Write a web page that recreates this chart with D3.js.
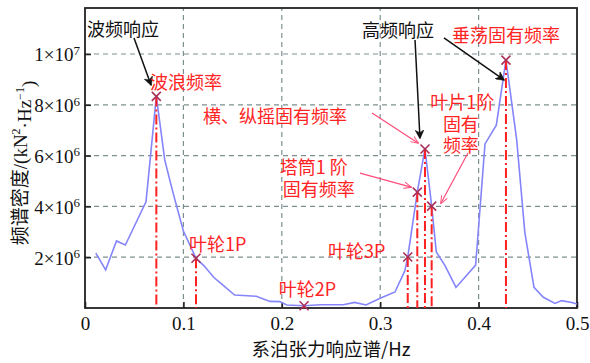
<!DOCTYPE html>
<html lang="zh-CN">
<head>
<meta charset="UTF-8">
<title>系泊张力响应谱</title>
<script src="https://d3js.org/d3.v7.min.js"></script>
<style>
    body { margin: 0; background: #fff; }
    svg { display: block; }
    .num { font-family: "Liberation Serif", "DejaVu Serif", serif; }
    .cjk { font-family: "Noto Sans CJK SC", sans-serif; }
</style>
</head>
<body>
<div id="chart"></div>
<script>
// 频率 (Hz) 与谱密度 (kN²·Hz⁻¹)
const freq = [0.011, 0.021, 0.032, 0.041, 0.062, 0.0725, 0.081, 0.089, 0.100, 0.1128,
    0.121, 0.131, 0.139, 0.152, 0.174, 0.188, 0.198, 0.205, 0.2226, 0.239,
    0.2625, 0.274, 0.2856, 0.300, 0.315, 0.325, 0.328, 0.3377, 0.3455, 0.3523,
    0.357, 0.366, 0.377, 0.397, 0.4065, 0.418, 0.4278, 0.4387, 0.447, 0.4563,
    0.4658, 0.4776, 0.4844, 0.4946, 0.500];
const psd = [2.16e6, 1.50e6, 2.64e6, 2.48e6, 4.18e6, 8.33e6, 5.84e6, 4.60e6, 3.03e6, 1.96e6,
    1.66e6, 1.20e6, 0.94e6, 0.51e6, 0.46e6, 0.26e6, 0.25e6, 0.12e6, 0.09e6, 0.13e6,
    0.13e6, 0.22e6, 0.12e6, 0.38e6, 0.63e6, 1.46e6, 2.01e6, 4.56e6, 6.26e6, 4.01e6,
    2.21e6, 1.66e6, 0.81e6, 1.69e6, 6.46e6, 7.20e6, 9.76e6, 6.63e6, 2.97e6, 0.81e6,
    0.42e6, 0.18e6, 0.29e6, 0.22e6, 0.16e6];

// 标记的特征频率
const markFreq = [0.0725, 0.1128, 0.2226, 0.328, 0.3377, 0.3455, 0.3523, 0.4278];
const markPsd = [8.33e6, 1.96e6, 0.09e6, 2.01e6, 4.56e6, 6.26e6, 4.01e6, 9.76e6];

const xTicks = [0, 0.1, 0.2, 0.3, 0.4, 0.5];
const xTickLabels = ['0', '0.1', '0.2', '0.3', '0.4', '0.5'];
const yTicks = [2e6, 4e6, 6e6, 8e6, 1e7];
const yTickMant = ['2', '4', '6', '8', '1'];
const yTickExp = ['6', '6', '6', '6', '7'];

const xTitle = '系泊张力响应谱/Hz';

// 标注文字 (位置以数据单位给出)
const labels = [
    { t: '波频响应', f: 0.002, v: 10.71e6, c: 'black' },
    { t: '高频响应', f: 0.2815, v: 10.67e6, c: 'black' },
    { t: '垂荡固有频率', f: 0.373, v: 10.47e6, c: 'red' },
    { t: '波浪频率', f: 0.066, v: 8.62e6, c: 'red' },
    { t: '横、纵摇固有频率', f: 0.12, v: 7.28e6, c: 'red' },
    { t: '塔筒1 阶', f: 0.198, v: 5.28e6, c: 'red' },
    { t: '固有频率', f: 0.201, v: 4.41e6, c: 'red' },
    { t: '叶片1阶', f: 0.3835, v: 7.82e6, c: 'red', mid: true },
    { t: '固有', f: 0.382, v: 6.98e6, c: 'red', mid: true },
    { t: '频率', f: 0.382, v: 6.14e6, c: 'red', mid: true },
    { t: '叶轮1P', f: 0.1057, v: 2.24e6, c: 'red' },
    { t: '叶轮3P', f: 0.247, v: 1.97e6, c: 'red' },
    { t: '叶轮2P', f: 0.197, v: 0.47e6, c: 'red' }
];
const arrows = [
    { f0: 0.0498, v0: 10.63e6, f1: 0.0671, v1: 8.78e6, c: 'black' },
    { f0: 0.3354, v0: 10.55e6, f1: 0.3404, v1: 6.69e6, c: 'black' },
    { f0: 0.3648, v0: 10.63e6, f1: 0.4258, v1: 8.98e6, c: 'black' },
    { f0: 0.2917, v0: 7.68e6, f1: 0.3384, v1: 6.50e6, c: 'pink' },
    { f0: 0.2795, v0: 5.31e6, f1: 0.3313, v1: 4.76e6, c: 'pink' },
    { f0: 0.3892, v0: 6.10e6, f1: 0.3618, v1: 4.13e6, c: 'pink' }
];

const W = 590, H = 363;
const margin = { top: 8, right: 13, bottom: 55, left: 85 };
const colors = { red: '#ff2424', pink: '#ff4d7a', black: '#111' };

const svg = d3.select('#chart').append('svg')
    .attr('width', W).attr('height', H);

const x = d3.scaleLinear().domain([0, 0.5]).range([margin.left, W - margin.right]);
const y = d3.scaleLinear().domain([0, 11.81e6]).range([H - margin.bottom, margin.top]);

// 网格
const grid = svg.append('g').attr('stroke', '#7d8f8f').attr('stroke-width', 1.2)
    .attr('stroke-dasharray', '5,4');
grid.selectAll('.gx').data(xTicks.slice(1, -1)).enter().append('line')
    .attr('x1', d => x(d)).attr('x2', d => x(d))
    .attr('y1', y.range()[0]).attr('y2', y.range()[1]);
grid.selectAll('.gy').data(yTicks).enter().append('line')
    .attr('x1', x.range()[0]).attr('x2', x.range()[1])
    .attr('y1', d => y(d)).attr('y2', d => y(d));

// 坐标轴
const xAxis = svg.append('g')
    .attr('transform', `translate(0,${y.range()[0]})`)
    .call(d3.axisBottom(x).tickValues(xTicks).tickSizeInner(-6).tickSizeOuter(0)
        .tickPadding(9).tickFormat((d, i) => xTickLabels[i]));
xAxis.select('.domain').remove();
xAxis.selectAll('line').attr('stroke', '#222').attr('stroke-width', 1.6);
xAxis.selectAll('text').attr('class', 'num').attr('font-size', 19).attr('fill', '#111')
    .attr('font-family', null);

const yAxis = svg.append('g')
    .attr('transform', `translate(${x.range()[0]},0)`)
    .call(d3.axisLeft(y).tickValues(yTicks).tickSizeInner(-6).tickSizeOuter(0)
        .tickPadding(6).tickFormat(''));
yAxis.select('.domain').remove();
yAxis.selectAll('line').attr('stroke', '#222').attr('stroke-width', 1.6);
yAxis.selectAll('.tick text').each(function (d, i) {
    const t = d3.select(this).attr('class', 'num').attr('font-size', 19).attr('fill', '#111')
        .attr('font-family', null).attr('dy', '0.36em').attr('x', -5);
    t.append('tspan').text(yTickMant[i] + '×10');
    t.append('tspan').text(yTickExp[i]).attr('font-size', 13).attr('dy', '-0.5em');
});

// 边框
svg.append('rect')
    .attr('x', x.range()[0]).attr('y', y.range()[1])
    .attr('width', x.range()[1] - x.range()[0]).attr('height', y.range()[0] - y.range()[1])
    .attr('fill', 'none').attr('stroke', '#222').attr('stroke-width', 1.8);

// 谱线
const pts = freq.map((f, i) => [f, psd[i]]);
svg.append('path').datum(pts)
    .attr('fill', 'none').attr('stroke', '#8585fb').attr('stroke-width', 1.6)
    .attr('d', d3.line().x(d => x(d[0])).y(d => y(d[1])));

// 特征频率竖线
svg.append('g').selectAll('line').data(markFreq).enter().append('line')
    .attr('x1', d => x(d)).attr('x2', d => x(d))
    .attr('y1', (d, i) => y(markPsd[i])).attr('y2', y(0))
    .attr('stroke', '#ff2020').attr('stroke-width', 2)
    .attr('stroke-dasharray', '10,3,2,3');

// × 标记
const mk = svg.append('g').attr('stroke', '#a8305a').attr('stroke-width', 1.6);
markFreq.forEach((f, i) => {
    const cx = x(f), cy = y(markPsd[i]), r = 4.5;
    mk.append('line').attr('x1', cx - r).attr('y1', cy - r).attr('x2', cx + r).attr('y2', cy + r);
    mk.append('line').attr('x1', cx - r).attr('y1', cy + r).attr('x2', cx + r).attr('y2', cy - r);
});

// 箭头
const defs = svg.append('defs');
['black', 'pink'].forEach(c => {
    defs.append('marker').attr('id', 'ah-' + c)
        .attr('viewBox', '0 0 10 10').attr('refX', 9).attr('refY', 5)
        .attr('markerWidth', c === 'black' ? 9 : 8).attr('markerHeight', c === 'black' ? 9 : 8)
        .attr('markerUnits', 'userSpaceOnUse').attr('orient', 'auto')
        .append('path')
        .attr('d', c === 'black' ? 'M0,0 L10,5 L0,10 L3,5 Z' : 'M0,1 L10,5 L0,9')
        .attr('fill', c === 'black' ? colors.black : 'none')
        .attr('stroke', colors[c]).attr('stroke-width', c === 'black' ? 0.5 : 1.2);
});
svg.append('g').selectAll('line').data(arrows).enter().append('line')
    .attr('x1', d => x(d.f0)).attr('y1', d => y(d.v0))
    .attr('x2', d => x(d.f1)).attr('y2', d => y(d.v1))
    .attr('stroke', d => colors[d.c]).attr('stroke-width', d => d.c === 'black' ? 1.5 : 1.2)
    .attr('marker-end', d => `url(#ah-${d.c})`);

// 标注文字
svg.append('g').selectAll('text').data(labels).enter().append('text')
    .attr('class', 'cjk')
    .attr('x', d => x(d.f)).attr('y', d => y(d.v))
    .attr('text-anchor', d => d.mid ? 'middle' : 'start')
    .attr('font-size', 18)
    .attr('fill', d => colors[d.c])
    .text(d => d.t);

// 轴标题
svg.append('text').attr('class', 'cjk')
    .attr('x', (x.range()[0] + x.range()[1]) / 2).attr('y', 356)
    .attr('text-anchor', 'middle').attr('font-size', 18.5).attr('fill', '#111')
    .text(xTitle);

const yt = svg.append('text')
    .attr('transform', `translate(27,${(y.range()[0] + y.range()[1]) / 2 + 5}) rotate(-90)`)
    .attr('text-anchor', 'middle').attr('font-size', 19).attr('fill', '#111');
yt.append('tspan').attr('class', 'cjk').text('频谱密度');
yt.append('tspan').attr('class', 'num').text('/(kN');
yt.append('tspan').attr('class', 'num').attr('font-size', 12).attr('dy', '-0.55em').text('2');
yt.append('tspan').attr('class', 'num').attr('dy', '0.55em').text('·Hz');
yt.append('tspan').attr('class', 'num').attr('font-size', 12).attr('dy', '-0.55em').text('−1');
yt.append('tspan').attr('class', 'num').attr('dy', '0.55em').text(')');
</script>
</body>
</html>
